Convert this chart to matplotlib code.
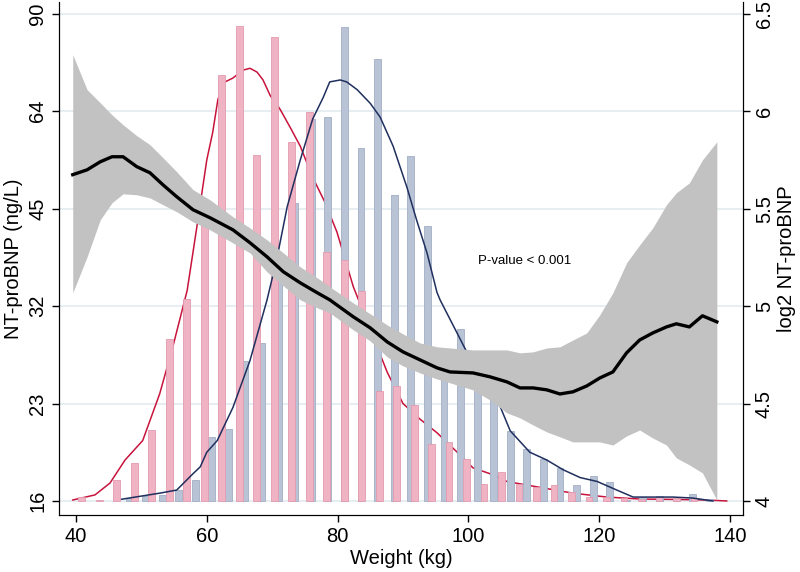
import matplotlib.pyplot as plt
import numpy as np

plt.rcParams['font.family'] = ['Liberation Sans', 'DejaVu Sans']

# histogram of weight, heights on the log2 NT-proBNP scale (base at 4)
women_bins = [40.87, 43.55, 46.22, 48.90, 51.57, 54.25, 56.92, 59.60, 62.27, 64.95,
              67.62, 70.30, 72.97, 75.65, 78.32, 81.00, 83.67, 86.35, 89.02, 91.70,
              94.37, 97.05, 99.72, 102.40, 105.07, 107.75, 110.42, 113.10, 115.77, 118.45,
              121.12, 123.80, 126.47, 129.15, 131.82, 134.50]
women_h = [4.019, 4.005, 4.108, 4.193, 4.365, 4.830, 5.036, 5.45, 6.183, 6.437,
           5.774, 6.380, 5.842, 5.997, 5.277, 5.238, 5.075, 4.562, 4.591, 4.493,
           4.291, 4.304, 4.216, 4.087, 4.149, 4.087, 4.074, 4.080, 4.045, 4.022,
           4.019, 4.014, 4.012, 4.019, 4.017, 4.014]

men_bins = [48.10, 50.64, 53.17, 55.71, 58.24, 60.78, 63.31, 65.85, 68.38, 70.92,
            73.45, 75.99, 78.52, 81.06, 83.59, 86.13, 88.66, 91.20, 93.73, 96.27,
            98.80, 101.34, 103.87, 106.41, 108.94, 111.48, 114.01, 116.55, 119.08, 121.62,
            124.15, 126.69, 129.22, 131.76, 134.29, 136.83]
men_h = [4.015, 4.026, 4.030, 4.056, 4.108, 4.330, 4.370, 4.720, 4.810, 5.25,
         5.530, 5.960, 5.970, 6.430, 5.810, 6.270, 5.570, 5.770, 5.410, 4.780,
         4.880, 4.700, 4.620, 4.360, 4.267, 4.216, 4.171, 4.080, 4.128, 4.097,
         4.005, 4.020, 4.025, 4.020, 4.035, 4.010]

# kernel density curves (scaled)
women_kx = [39.5, 42.9, 45.2, 47.5, 50.2, 52.8, 54.8, 57.0, 58.5, 60.0, 60.9, 61.7,
            62.8, 64.0, 65.5, 66.6, 67.7, 68.6, 69.7, 71.2, 72.7, 74.3, 76.2, 78.1,
            79.9, 82.4, 85.0, 87.6, 90.0, 92.6, 95.2, 98.3, 100.7, 103.3, 105.9, 110.9,
            116.0, 121.2, 126.2, 131.5, 136.5, 139.5]
women_ky = [4.005, 4.031, 4.092, 4.21, 4.31, 4.55, 4.79, 5.08, 5.41, 5.75, 5.89, 6.06,
            6.15, 6.17, 6.21, 6.22, 6.20, 6.16, 6.08, 6.01, 5.92, 5.82, 5.66, 5.53,
            5.38, 5.10, 4.88, 4.66, 4.50, 4.42, 4.35, 4.25, 4.17, 4.14, 4.10, 4.07,
            4.04, 4.02, 4.01, 4.008, 4.005, 4.0]
men_kx = [47.0, 52.8, 55.4, 57.9, 59.0, 60.0, 61.6, 64.0, 66.6, 69.2, 70.7, 72.3,
          74.3, 76.2, 77.8, 78.8, 80.4, 81.4, 83.0, 85.0, 86.5, 88.5, 90.6, 92.1,
          93.7, 95.2, 95.7, 98.3, 101.5, 104.8, 106.4, 109.4, 112.0, 114.5, 117.1, 119.7,
          122.7, 125.2, 127.3, 131.3, 134.3, 137.4]
men_ky = [4.009, 4.04, 4.056, 4.14, 4.175, 4.25, 4.31, 4.48, 4.72, 5.03, 5.24, 5.51,
          5.75, 5.96, 6.07, 6.15, 6.16, 6.15, 6.11, 6.04, 5.97, 5.82, 5.61, 5.44,
          5.27, 5.07, 5.03, 4.86, 4.65, 4.49, 4.36, 4.25, 4.21, 4.16, 4.12, 4.10,
          4.056, 4.02, 4.02, 4.02, 4.015, 4.0]

# fitted log2 NT-proBNP with 95% CI
fit_x = [39.5, 41.7, 43.7, 45.5, 47.2, 49.3, 51.3, 53.3, 55.4, 57.9, 60.5, 64.0,
         66.6, 69.2, 71.7, 74.3, 76.9, 78.8, 82.4, 85.0, 87.6, 90.0, 92.6, 95.2,
         97.2, 100.7, 103.3, 105.9, 107.9, 109.9, 112.0, 114.0, 116.0, 118.1, 120.1, 122.1,
         124.2, 126.2, 128.2, 130.3, 131.8, 133.8, 135.8, 138.0]
fit_y = [5.674, 5.699, 5.740, 5.766, 5.766, 5.715, 5.684, 5.622, 5.561, 5.494, 5.453, 5.391,
         5.325, 5.253, 5.176, 5.119, 5.068, 5.032, 4.945, 4.888, 4.816, 4.765, 4.724, 4.683,
         4.662, 4.657, 4.637, 4.611, 4.580, 4.580, 4.570, 4.549, 4.560, 4.590, 4.631, 4.662,
         4.760, 4.826, 4.862, 4.893, 4.909, 4.893, 4.950, 4.919]
fit_hi = [6.290, 6.110, 6.043, 5.981, 5.930, 5.874, 5.828, 5.761, 5.689, 5.597, 5.545, 5.458,
          5.401, 5.340, 5.273, 5.201, 5.145, 5.099, 5.016, 4.960, 4.903, 4.857, 4.811, 4.791,
          4.785, 4.775, 4.775, 4.775, 4.760, 4.765, 4.785, 4.791, 4.826, 4.862, 4.955, 5.068,
          5.222, 5.314, 5.401, 5.520, 5.581, 5.632, 5.750, 5.843]
fit_lo = [5.068, 5.253, 5.442, 5.530, 5.576, 5.571, 5.555, 5.520, 5.484, 5.432, 5.391, 5.324,
          5.273, 5.176, 5.104, 5.032, 4.991, 4.965, 4.878, 4.821, 4.739, 4.693, 4.657, 4.626,
          4.606, 4.570, 4.518, 4.452, 4.426, 4.390, 4.354, 4.329, 4.303, 4.303, 4.303, 4.287,
          4.334, 4.364, 4.323, 4.287, 4.221, 4.185, 4.144, 4.005]

left_ticks = [4, 4.5, 5, 5.5, 6, 6.5]
left_labels = ['16', '23', '32', '45', '64', '90']
right_labels = ['4', '4.5', '5', '5.5', '6', '6.5']

fig = plt.figure(figsize=(8, 5.72), dpi=100)
ax = fig.add_axes([59 / 800, 1 - 515 / 572, 684 / 800, 513 / 572])

for t in left_ticks:
    ax.axhline(t, color='#e6eef1', lw=1.4, zorder=0)

pink = '#efb3c3'
blue = '#b9c3d6'
ax.plot(women_kx, women_ky, color='#c8143c', lw=1.1, zorder=1)
ax.bar(men_bins, np.array(men_h) - 4, bottom=4, width=1.05, color=blue,
       edgecolor='#a3aec6', linewidth=0.6, zorder=2)
ax.bar(women_bins, np.array(women_h) - 4, bottom=4, width=1.05, color=pink,
       edgecolor='#e39bb0', linewidth=0.6, zorder=2.5)
ax.plot(men_kx, men_ky, color='#1f2f5e', lw=1.1, zorder=3)

ax.fill_between(fit_x, fit_lo, fit_hi, color='#c2c2c2', lw=0, zorder=4)
ax.plot(fit_x, fit_y, color='black', lw=2.4, zorder=5)

ax.text(101.5, 5.232, 'P-value < 0.001', fontsize=9.5, va='center', ha='left')

ax.set_xlim(37.4, 142.0)
ax.set_ylim(3.928, 6.56)
ax.set_xticks([40, 60, 80, 100, 120, 140])
ax.set_yticks(left_ticks)
ax.set_yticklabels(left_labels, rotation=90, va='center')
ax.tick_params(labelsize=14.5, length=5, width=1, colors='black')
ax.set_xlabel('Weight (kg)', fontsize=14.5, labelpad=2)
ax.set_ylabel('NT-proBNP (ng/L)', fontsize=14.5, labelpad=4)
ax.spines['top'].set_visible(False)

ax2 = ax.twinx()
ax2.set_ylim(ax.get_ylim())
ax2.set_yticks(left_ticks)
ax2.set_yticklabels(right_labels, rotation=90, va='center')
ax2.tick_params(labelsize=14.5, length=5, width=1)
ax2.set_ylabel('log2 NT-proBNP', fontsize=14.5, labelpad=2)
ax2.spines['top'].set_visible(False)

fig.savefig('out.png', dpi=100)
